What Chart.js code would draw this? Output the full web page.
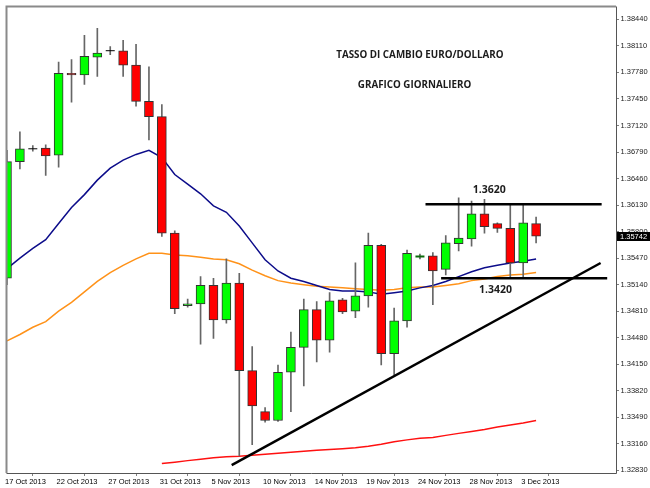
<!DOCTYPE html>
<html><head><meta charset="utf-8">
<script src="https://cdn.jsdelivr.net/npm/chart.js@4.4.0/dist/chart.umd.min.js"></script>
<style>html,body{margin:0;padding:0;background:#fff;}#wrap{width:650px;height:488px;position:relative;}canvas{display:block;}</style>
</head><body><div id="wrap"><canvas id="c" width="650" height="488" style="width:650px;height:488px"></canvas></div>
<script>
// ---- data ----
const dates = ['17 Oct 2013','18 Oct 2013','20 Oct 2013','21 Oct 2013','22 Oct 2013','23 Oct 2013','24 Oct 2013','25 Oct 2013',
 '27 Oct 2013','28 Oct 2013','29 Oct 2013','30 Oct 2013','31 Oct 2013','1 Nov 2013','3 Nov 2013','4 Nov 2013',
 '5 Nov 2013','6 Nov 2013','7 Nov 2013','8 Nov 2013','10 Nov 2013','11 Nov 2013','12 Nov 2013','13 Nov 2013',
 '14 Nov 2013','15 Nov 2013','17 Nov 2013','18 Nov 2013','19 Nov 2013','20 Nov 2013','21 Nov 2013','22 Nov 2013',
 '24 Nov 2013','25 Nov 2013','26 Nov 2013','27 Nov 2013','28 Nov 2013','29 Nov 2013','1 Dec 2013','2 Dec 2013',
 '3 Dec 2013','4 Dec 2013'];
const open  = [1.3522,1.3667,1.3683,1.3684,1.3675,1.3777,1.3775,1.3797,1.3805,1.3805,1.3787,1.3742,1.3723,1.3578,1.3488,1.3490,
 1.3513,1.3470,1.3516,1.3407,1.3356,1.3345,1.3405,1.3436,1.3483,1.3445,1.3495,1.3481,1.3500,1.3563,1.3428,1.3469,
 1.3548,1.3550,1.3533,1.3565,1.3571,1.3602,1.3590,1.3584,1.3541,1.3590];
const high  = [1.3681,1.3704,1.3687,1.3688,1.3791,1.3794,1.3824,1.3833,1.3810,1.3818,1.3813,1.3785,1.3738,1.3581,1.3496,1.3524,
 1.3522,1.3546,1.3528,1.3437,1.3361,1.3414,1.3455,1.3496,1.3493,1.3504,1.3497,1.3541,1.3578,1.3564,1.3485,1.3557,
 1.3552,1.3554,1.3575,1.3622,1.3618,1.3620,1.3591,1.3614,1.3614,1.3598];
const low   = [1.3514,1.3658,1.3680,1.3650,1.3660,1.3741,1.3763,1.3773,1.3800,1.3773,1.3736,1.3694,1.3574,1.3478,1.3486,1.3440,
 1.3447,1.3466,1.3301,1.3315,1.3343,1.3344,1.3356,1.3388,1.3418,1.3430,1.3478,1.3473,1.3486,1.3414,1.3402,1.3461,
 1.3546,1.3489,1.3526,1.3556,1.3562,1.3578,1.3579,1.3522,1.3522,1.3566];
const close = [1.3667,1.3683,1.3683,1.3674,1.3777,1.3775,1.3798,1.3802,1.3805,1.3787,1.3742,1.3723,1.3578,1.3484,1.3490,1.3513,
 1.3470,1.3516,1.3407,1.3363,1.3345,1.3405,1.3436,1.3483,1.3445,1.3494,1.3480,1.3500,1.3563,1.3428,1.3469,1.3553,
 1.3549,1.3531,1.3566,1.3572,1.3602,1.3586,1.3584,1.3541,1.3591,1.35742];
const maBlue = [1.3534,1.3547,1.3559,1.3570,1.3590,1.3610,1.3626,1.3644,1.3659,1.3669,1.3676,1.3681,1.3672,1.3651,1.3639,1.3627,
 1.3612,1.3604,1.3587,1.3566,1.3545,1.3531,1.3522,1.3518,1.3513,1.3508,1.3506,1.3506,1.3505,1.3502,1.3504,1.3506,
 1.3510,1.3513,1.3518,1.3524,1.3530,1.3535,1.3538,1.3541,1.3543,1.3546];
const maOrange = [1.3444,1.3452,1.3461,1.3468,1.3481,1.3492,1.3505,1.3518,1.3529,1.3538,1.3546,1.3553,1.3553,1.3551,1.3550,1.3548,
 1.3546,1.3545,1.3540,1.3532,1.3525,1.3519,1.3516,1.3514,1.3512,1.3511,1.3510,1.3509,1.3508,1.3507,1.3508,1.3510,
 1.3511,1.3511,1.3513,1.3515,1.3519,1.3521,1.3524,1.3526,1.3527,1.3529];
const maRed = [null,null,null,null,null,null,null,null,null,null,null,null,1.32914,1.32932,1.32951,1.32969,
 1.32988,1.33000,1.33006,1.33019,1.33031,1.33043,1.33055,1.33068,1.33080,1.33089,1.33099,1.33111,1.33129,1.33154,1.33185,1.33209,
 1.33228,1.33240,1.33265,1.33290,1.33314,1.33339,1.33370,1.33394,1.33419,1.33450];
// drawn studies: [startIndex, startValue, endIndex, endValue]
const resistance = [32.43, 1.3614, 46.08, 1.3614];
const support    = [33.64, 1.3522, 46.51, 1.3522];
const trendline  = [17.41, 1.32895, 46.0, 1.35409];
const resistanceLabel = '1.3620';
const supportLabel = '1.3420';
const titleLines = ['TASSO DI CAMBIO EURO/DOLLARO', 'GRAFICO GIORNALIERO'];
const yTicks = [1.32830,1.33160,1.33490,1.33820,1.34150,1.34480,1.34810,1.35140,1.35470,1.35800,1.36130,1.36460,1.36790,1.37120,1.37450,1.37780,1.38110,1.38440];
const xTickStep = 4;
const Y_MIN = 1.32797, Y_MAX = 1.38600;
const X_MIN = -0.0385, X_MAX = 47.1923;

// ---- build ----
const idx = dates.map((d, i) => i);
const xTicks = idx.filter(i => i % xTickStep === 0);
const isDoji = i => Math.abs(close[i] - open[i]) < 0.00015;
const pts = (arr) => arr.map((v, i) => v == null ? null : {x: i, y: v}).filter(p => p);
const seg = s => [{x: s[0], y: s[1]}, {x: s[2], y: s[3]}];
const dojiIdx = idx.filter(isDoji);

const annot = {
  id: 'annot',
  afterDatasetsDraw(chart) {
    const {ctx, scales: {x, y}} = chart;
    ctx.save();
    ctx.fillStyle = '#1c1c1c';
    ctx.textAlign = 'center';
    ctx.textBaseline = 'middle';
    ctx.font = 'bold 9.8px "Open Sans"';
    ctx.fillText(titleLines[0], x.getPixelForValue(32.0), y.getPixelForValue(1.37988));
    ctx.fillText(titleLines[1], x.getPixelForValue(31.58), y.getPixelForValue(1.37627));
    ctx.font = 'bold 10.5px "Open Sans"';
    ctx.fillText(resistanceLabel, x.getPixelForValue(37.37), y.getPixelForValue(1.36317));
    ctx.fillText(supportLabel, x.getPixelForValue(37.85), y.getPixelForValue(1.35072));
    ctx.restore();
  },
  afterDraw(chart) {
    const {ctx, chartArea: a, scales: {y}} = chart;
    ctx.save();
    ctx.strokeStyle = '#8a8a8a';
    ctx.lineWidth = 2;
    ctx.beginPath();
    ctx.moveTo(a.left, a.bottom); ctx.lineTo(a.left, a.top); ctx.lineTo(a.right, a.top);
    ctx.stroke();
    ctx.strokeStyle = '#555';
    ctx.lineWidth = 1;
    ctx.beginPath();
    ctx.moveTo(a.right + 0.5, a.top); ctx.lineTo(a.right + 0.5, a.bottom + 0.5); ctx.lineTo(a.left, a.bottom + 0.5);
    ctx.stroke();
    const last = close[close.length - 1];
    const py = Math.round(y.getPixelForValue(last));
    ctx.fillStyle = '#000';
    ctx.fillRect(a.right + 1, py - 4, chart.width - a.right - 1, 9);
    ctx.fillStyle = '#fff';
    ctx.font = '7.5px "Liberation Sans"';
    ctx.textAlign = 'left';
    ctx.textBaseline = 'middle';
    ctx.fillText(last.toFixed(5), a.right + 4, py + 0.5);
    ctx.restore();
  }
};

new Chart(document.getElementById('c'), {
  type: 'bar',
  data: {
    datasets: [
      { type: 'line', label: 'resistance', data: seg(resistance), borderColor: '#000', borderWidth: 2.5, pointRadius: 0, order: 0 },
      { type: 'line', label: 'support', data: seg(support), borderColor: '#000', borderWidth: 2.5, pointRadius: 0, order: 0 },
      { type: 'line', label: 'trend', data: seg(trendline), borderColor: '#000', borderWidth: 2.5, pointRadius: 0, order: 0 },
      { type: 'line', label: 'doji', showLine: false, data: dojiIdx.map(i => ({x: i, y: close[i]})),
        pointStyle: 'line', pointRadius: 4.5, pointHoverRadius: 4.5,
        pointBorderColor: dojiIdx.map(i => close[i] > open[i] ? '#0b6a0b' : '#000'),
        pointBorderWidth: dojiIdx.map(i => close[i] > open[i] ? 2 : 1), order: 1 },
      { type: 'bar', label: 'body', data: idx.map(i => isDoji(i) ? null : {x: i, y: [open[i], close[i]]}).filter(p => p),
        backgroundColor: idx.filter(i => !isDoji(i)).map(i => close[i] > open[i] ? '#00ff00' : '#ff0000'),
        borderColor: '#333', borderWidth: 1, borderSkipped: false, barThickness: 9, grouped: false, order: 2 },
      { type: 'bar', label: 'wick', data: idx.map(i => ({x: i, y: [low[i], high[i]]})),
        backgroundColor: '#666', barThickness: 1, grouped: false, order: 3 },
      { type: 'line', label: 'MA blue', data: pts(maBlue), borderColor: '#0c0c8a', borderWidth: 1.5, pointRadius: 0, order: 4 },
      { type: 'line', label: 'MA orange', data: pts(maOrange), borderColor: '#ff9219', borderWidth: 1.5, pointRadius: 0, order: 5 },
      { type: 'line', label: 'MA red', data: pts(maRed), borderColor: '#ff1010', borderWidth: 1.5, pointRadius: 0, order: 6 }
    ]
  },
  options: {
    responsive: false,
    maintainAspectRatio: false,
    animation: false,
    devicePixelRatio: 1,
    layout: { padding: { left: 2, top: 2, right: 0, bottom: 0 } },
    plugins: { legend: { display: false }, tooltip: { enabled: false } },
    scales: {
      x: {
        type: 'linear', position: 'bottom', min: X_MIN, max: X_MAX, offset: false,
        afterBuildTicks: s => { s.ticks = xTicks.map(v => ({value: v})); },
        afterFit: s => { s.height = 15; },
        grid: { drawOnChartArea: false, drawTicks: true, tickLength: 3, color: '#808080' },
        border: { display: false },
        ticks: { autoSkip: false, maxRotation: 0, minRotation: 0, align: 'start', padding: 1, labelOffset: -2,
          font: { family: 'Liberation Sans', size: 7.5 }, color: '#000', callback: v => dates[v] }
      },
      y: {
        position: 'right', min: Y_MIN, max: Y_MAX,
        afterBuildTicks: s => { s.ticks = yTicks.map(v => ({value: v})); },
        afterFit: s => { s.width = 34; },
        grid: { drawOnChartArea: false, drawTicks: true, tickLength: 3, color: '#808080' },
        border: { display: false },
        ticks: { padding: 1.5, font: { family: 'Liberation Sans', size: 7.5 }, color: '#222', callback: v => v.toFixed(5) }
      }
    }
  },
  plugins: [annot]
});
</script></body></html>
